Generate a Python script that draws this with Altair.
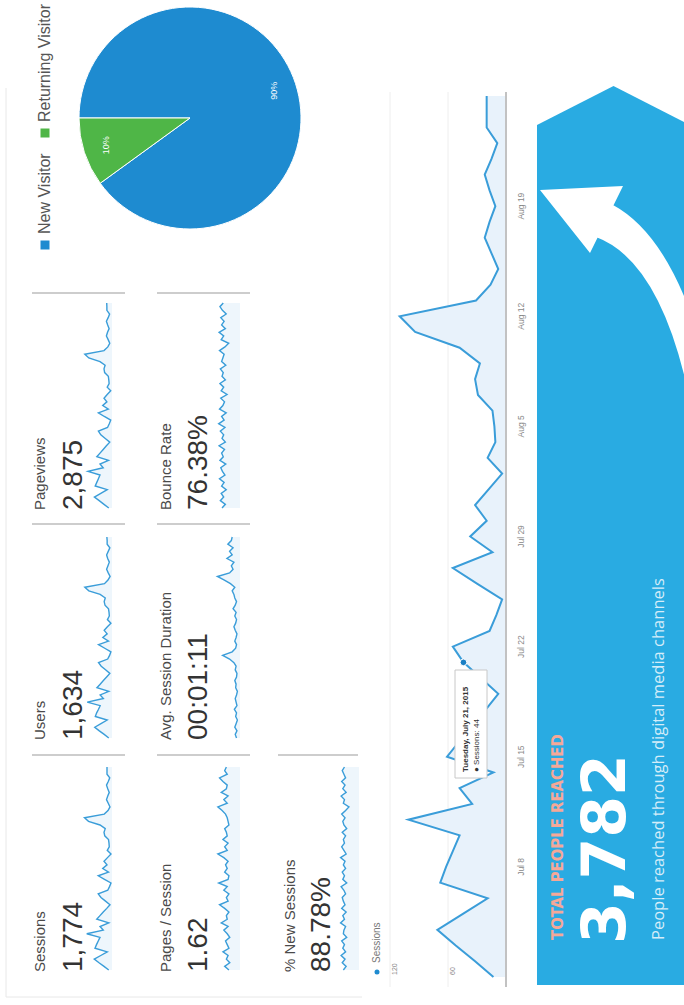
import altair as alt
import pandas as pd

# ---------------- data ----------------
dates = pd.date_range("2015-07-01", "2015-08-26", freq="D").strftime("%Y-%m-%d").tolist()

sessions = [13, 32, 52, 71, 45, 19, 68, 62, 55, 48, 101, 35, 48, 13, 61, 48, 35, 21, 8, 26,
            44, 55, 17, 10, 4, 30, 55, 14, 37, 20, 32, 18, 4, 19, 11, 12, 14, 29, 32, 27,
            48, 94, 110, 31, 16, 8, 15, 22, 17, 11, 17, 22, 15, 9, 20, 20, 20]
users = [12, 29, 47, 64, 41, 18, 62, 57, 50, 44, 92, 32, 44, 12, 56, 44, 32, 20, 8, 24,
         40, 50, 16, 9, 4, 27, 50, 13, 34, 18, 29, 17, 4, 17, 10, 11, 13, 26, 29, 25,
         44, 86, 101, 28, 15, 7, 14, 20, 15, 10, 16, 20, 14, 8, 18, 18, 19]
pageviews = [20, 50, 80, 110, 70, 30, 105, 95, 85, 75, 150, 55, 75, 22, 95, 75, 55, 35, 14, 42,
             70, 85, 28, 17, 8, 48, 85, 23, 58, 32, 50, 30, 8, 30, 18, 20, 23, 46, 50, 43,
             75, 145, 170, 50, 26, 14, 24, 35, 28, 18, 27, 35, 24, 15, 32, 32, 33]
pages_per_session = [1.3, 1.8, 1.2, 1.6, 1.4, 2.0, 1.3, 1.5, 1.7, 1.2, 1.5, 1.9, 1.4, 2.2, 1.5,
                     1.6, 1.3, 1.8, 2.4, 1.4, 1.6, 1.3, 1.9, 1.5, 2.5, 1.4, 1.3, 1.8, 1.5, 1.7,
                     1.4, 1.9, 2.6, 1.5, 1.8, 1.4, 2.0, 1.5, 1.6, 1.8, 1.3, 1.4, 1.5, 1.7, 2.1,
                     2.6, 1.5, 1.9, 1.4, 2.2, 1.6, 1.5, 2.0, 2.4, 1.5, 1.8, 1.6]
avg_session_duration = [40, 55, 35, 60, 45, 30, 50, 40, 65, 35, 45, 55, 40, 30, 50, 45, 60, 40, 35, 55,
                        45, 70, 120, 200, 90, 50, 40, 60, 45, 35, 55, 70, 50, 40, 60, 45, 80, 55, 40, 60,
                        70, 90, 60, 110, 180, 260, 120, 80, 100, 70, 150, 90, 120, 80, 140, 100, 90]
bounce_rate = [78, 70, 82, 74, 80, 68, 79, 73, 84, 71, 77, 81, 69, 83, 75, 79, 72, 85, 70, 78,
               74, 82, 71, 86, 73, 79, 68, 84, 76, 72, 81, 66, 80, 74, 83, 70, 78, 75, 82, 69,
               79, 76, 73, 84, 71, 62, 80, 74, 85, 70, 79, 73, 81, 68, 77, 83, 75]
new_sessions_pct = [90, 85, 92, 87, 94, 86, 91, 88, 93, 84, 90, 89, 86, 95, 88, 91, 85, 93, 87, 90,
                    92, 86, 89, 94, 84, 91, 88, 92, 86, 90, 87, 95, 85, 89, 93, 88, 90, 86, 92, 84,
                    89, 91, 87, 93, 86, 80, 90, 88, 94, 85, 91, 87, 93, 86, 89, 92, 88]

kpi_labels = ["Sessions", "Users", "Pageviews", "Pages / Session",
              "Avg. Session Duration", "Bounce Rate", "% New Sessions"]
kpi_values = ["1,774", "1,634", "2,875", "1.62", "00:01:11", "76.38%", "88.78%"]
# value ranges used by each sparkline (scale domains)
spark_domains = [[0, 112], [0, 104], [0, 175], [0, 2.7], [0, 265], [35, 90], [62, 96]]

visitor_types = ["New Visitor", "Returning Visitor"]
visitor_share = [90, 10]
visitor_share_labels = ["90%", "10%"]

tick_dates = ["2015-07-08", "2015-07-15", "2015-07-22", "2015-07-29",
              "2015-08-05", "2015-08-12", "2015-08-19"]
tick_labels = ["Jul 8", "Jul 15", "Jul 22", "Jul 29", "Aug 5", "Aug 12", "Aug 19"]
value_ticks = [60, 120]

tooltip_date = "2015-07-21"
tooltip_title = "Tuesday, July 21, 2015"
tooltip_value = 44

banner_title = "TOTAL PEOPLE REACHED"
banner_value = "3,782"
banner_caption = "People reached through digital media channels"

# ---------------- styles / layout ----------------
FONT = "Liberation Sans, Arial, sans-serif"
LINE = "#3a9dd9"
FILL = "#e8f2fb"
SPARK_FILL = "#eef6fc"
BANNER = "#29abe2"


def D(m, d, h=0):
    return alt.DateTime(year=2015, month=m, date=d, hours=h, utc=True)


def tscale(bottom, top):
    return alt.Scale(type="utc", domain=[D(7, 1), D(8, 26)], range=[bottom, top])


one = pd.DataFrame({"k": [0]})
layers = []

# card border
layers.append(alt.Chart(one).mark_rule(color="#e8e8e8", strokeWidth=1).encode(
    x=alt.value(6), y=alt.value(88), y2=alt.value(997)))
layers.append(alt.Chart(one).mark_rule(color="#e8e8e8", strokeWidth=1).encode(
    x=alt.value(6), x2=alt.value(362), y=alt.value(997)))

# ---------------- pie ----------------
pie_df = pd.DataFrame({"type": visitor_types, "share": visitor_share,
                       "label": visitor_share_labels, "rank": [0, 1]})
pie_colors = alt.Scale(domain=visitor_types, range=["#1e8bd0", "#4fb647"])
theta_sc = alt.Scale(domain=[0, sum(visitor_share)], range=[4.712389, 10.995574])
layers.append(alt.Chart(pie_df).mark_arc(outerRadius=111, stroke="white", strokeWidth=1).encode(
    theta=alt.Theta("share:Q", stack=True, scale=theta_sc),
    color=alt.Color("type:N", scale=pie_colors, legend=None),
    order=alt.Order("rank:Q"),
    x=alt.value(190), y=alt.value(118)))
layers.append(alt.Chart(pie_df).mark_text(radius=88, angle=270, color="white", fontSize=9,
                                          font=FONT).encode(
    theta=alt.Theta("share:Q", stack=True, scale=theta_sc),
    order=alt.Order("rank:Q"),
    text="label:N",
    x=alt.value(190), y=alt.value(118)))

# legend
leg_df = pd.DataFrame({"type": visitor_types})
leg_y = alt.Scale(domain=visitor_types, range=[245, 133], padding=0)
layers.append(alt.Chart(leg_df).mark_square(size=81, opacity=1).encode(
    x=alt.value(45), y=alt.Y("type:N", scale=leg_y, axis=None),
    color=alt.Color("type:N", scale=pie_colors, legend=None)))
layers.append(alt.Chart(leg_df).mark_text(angle=270, align="left", baseline="middle", dx=11,
                                          fontSize=16, font=FONT, color="#555").encode(
    x=alt.value(45), y=alt.Y("type:N", scale=leg_y, axis=None), text="type:N"))

# ---------------- KPI tiles ----------------
spark_series = [sessions, users, pageviews, pages_per_session,
                avg_session_duration, bounce_rate, new_sessions_pct]
cols = [dict(label=45, value=82, lo=112, hi=84, sep=(32, 125)),
        dict(label=171, value=207, lo=240, hi=217, sep=(157, 250)),
        dict(label=295, value=330, lo=359, hi=340, sep=(278, 358))]
rows = [dict(text=972, sep=755, bottom=970, top=767),
        dict(text=740, sep=524, bottom=738, top=537),
        dict(text=510, sep=293, bottom=508, top=303)]
tile_pos = [(0, 0), (0, 1), (0, 2), (1, 0), (1, 1), (1, 2), (2, 0)]

for i, (c, r) in enumerate(tile_pos):
    col, row = cols[c], rows[r]
    kdf = pd.DataFrame({"label": [kpi_labels[i]], "value": [kpi_values[i]]})
    layers.append(alt.Chart(one).mark_rule(color="#cdcdcd", strokeWidth=2).encode(
        x=alt.value(col["sep"][0]), x2=alt.value(col["sep"][1]), y=alt.value(row["sep"])))
    layers.append(alt.Chart(kdf).mark_text(angle=270, align="left", baseline="alphabetic",
                                           fontSize=15, font=FONT, color="#4a4a4a").encode(
        x=alt.value(col["label"]), y=alt.value(row["text"]), text="label:N"))
    layers.append(alt.Chart(kdf).mark_text(angle=270, align="left", baseline="alphabetic",
                                           fontSize=28, font=FONT, color="#333").encode(
        x=alt.value(col["value"]), y=alt.value(row["text"]), text="value:N"))
    s = spark_series[i]
    sdf = pd.DataFrame({"date": dates[:len(s)], "v": s})
    dom = spark_domains[i]
    xs = alt.Scale(domain=dom, range=[col["lo"], col["hi"]], zero=False, nice=False)
    ys = tscale(row["bottom"], row["top"])
    layers.append(alt.Chart(sdf).mark_area(orient="horizontal", color=SPARK_FILL).encode(
        y=alt.Y("date:T", scale=ys, axis=None),
        x=alt.X("v:Q", scale=xs, axis=None, stack=None),
        x2=alt.datum(dom[0])))
    layers.append(alt.Chart(sdf).mark_line(color=LINE, strokeWidth=1.4).encode(
        y=alt.Y("date:T", scale=ys, axis=None),
        x=alt.X("v:Q", scale=xs, axis=None),
        order=alt.Order("date:T")))

# ---------------- main sessions chart ----------------
main_x = alt.Scale(domain=[0, 120], range=[506, 390], nice=False, zero=False)
main_y = tscale(977, 96)
main_df = pd.DataFrame({"date": dates, "sessions": sessions})

layers.append(alt.Chart(pd.DataFrame({"v": value_ticks})).mark_rule(
    color="#eeeeee", strokeWidth=1).encode(
    x=alt.X("v:Q", scale=main_x, axis=None), y=alt.value(92), y2=alt.value(987)))
layers.append(alt.Chart(main_df).mark_area(orient="horizontal", color=FILL).encode(
    y=alt.Y("date:T", scale=main_y, axis=None),
    x=alt.X("sessions:Q", scale=main_x, axis=None, stack=None),
    x2=alt.datum(0)))
layers.append(alt.Chart(main_df).mark_line(color=LINE, strokeWidth=2).encode(
    y=alt.Y("date:T", scale=main_y, axis=None),
    x=alt.X("sessions:Q", scale=main_x, axis=None),
    order=alt.Order("date:T")))
layers.append(alt.Chart(one).mark_rule(color="#c2c2c2", strokeWidth=2).encode(
    x=alt.XDatum(datum=0, scale=main_x, axis=None), y=alt.value(92), y2=alt.value(987)))

layers.append(alt.Chart(pd.DataFrame({"date": tick_dates, "label": tick_labels})).mark_text(
    angle=270, fontSize=8.5, font=FONT, color="#888").encode(
    y=alt.Y("date:T", scale=main_y, axis=None), x=alt.value(521), text="label:N"))
layers.append(alt.Chart(pd.DataFrame({"v": value_ticks,
                                      "label": [str(v) for v in value_ticks]})).mark_text(
    angle=270, align="left", baseline="top", dy=1, fontSize=7, font=FONT, color="#888").encode(
    x=alt.X("v:Q", scale=main_x, axis=None), y=alt.value(975), text="label:N"))

# series legend
layers.append(alt.Chart(one).mark_circle(size=25, color="#1e8bd0", opacity=1).encode(
    x=alt.value(377), y=alt.value(972)))
layers.append(alt.Chart(pd.DataFrame({"t": ["Sessions"]})).mark_text(
    angle=270, align="left", baseline="middle", fontSize=10, font=FONT, color="#777").encode(
    x=alt.value(377), y=alt.value(963), text="t:N"))

# tooltip
layers.append(alt.Chart(one).mark_rect(fill="white", stroke="#c8c8c8", strokeWidth=1).encode(
    x=alt.value(455), x2=alt.value(487), y=alt.value(670), y2=alt.value(778)))
tip_df = pd.DataFrame({"title": [tooltip_title],
                       "line": ["\u25CF Sessions: " + str(tooltip_value)]})
layers.append(alt.Chart(tip_df).mark_text(
    angle=270, align="left", baseline="middle", fontSize=8, fontWeight="bold", font=FONT,
    color="#333").encode(x=alt.value(466), y=alt.value(772), text="title:N"))
layers.append(alt.Chart(tip_df).mark_text(
    angle=270, align="left", baseline="middle", fontSize=8, font=FONT,
    color="#333").encode(x=alt.value(477), y=alt.value(772), text="line:N"))
layers.append(alt.Chart(pd.DataFrame({"date": [tooltip_date], "sessions": [tooltip_value]})).mark_point(
    filled=True, size=45, color="#1a7fc4", stroke="white", strokeWidth=1, opacity=1).encode(
    y=alt.Y("date:T", scale=main_y, axis=None),
    x=alt.X("sessions:Q", scale=main_x, axis=None)))

# ---------------- banner ----------------
PENT = "M-0.1702,-0.9132L0,-1L0.1702,-0.9132L0.1702,1L-0.1702,1Z"
ARROW = ("M-0.72,-0.9L0.11,-0.94L-0.22,-0.27Z"
         "M0.01,-0.75Q0.64,-0.41 0.97,0.94L0.75,1.07Q0.46,-0.2 -0.16,-0.43Z")
layers.append(alt.Chart(one).mark_point(shape=PENT, size=899 ** 2, filled=True, color=BANNER,
                                        strokeWidth=0, opacity=1).encode(
    x=alt.value(613.5), y=alt.value(535.5)))
layers.append(alt.Chart(one).mark_point(shape=ARROW, size=200 ** 2, filled=True, color="white",
                                        strokeWidth=0, opacity=1).encode(
    x=alt.value(612), y=alt.value(280)))

ban_df = pd.DataFrame({"title": [banner_title], "value": [banner_value], "cap": [banner_caption]})
layers.append(alt.Chart(ban_df).mark_text(
    angle=270, align="left", baseline="alphabetic", fontSize=16.5, fontWeight="bold",
    font="Liberation Sans Narrow, DejaVu Sans Condensed, Roboto, sans-serif",
    color="#f5a898").encode(x=alt.value(563), y=alt.value(940), text="title:N"))
layers.append(alt.Chart(ban_df).mark_text(
    angle=270, align="left", baseline="alphabetic", fontSize=60, fontWeight="bold",
    font="DejaVu Sans, sans-serif", color="white").encode(
    x=alt.value(625), y=alt.value(944), text="value:N"))
layers.append(alt.Chart(ban_df).mark_text(
    angle=270, align="left", baseline="alphabetic", fontSize=16.5,
    font="Open Sans, sans-serif", color="#d5edf9").encode(
    x=alt.value(664), y=alt.value(940), text="cap:N"))

chart = alt.layer(*layers).resolve_scale(
    x="independent", y="independent", color="independent", theta="independent"
).properties(
    width=684, height=1005, padding=0, background="white",
    autosize=alt.AutoSizeParams(type="none")
).configure_view(stroke=None)

chart.save("out.html", embed_options={"renderer": "svg", "actions": False})
